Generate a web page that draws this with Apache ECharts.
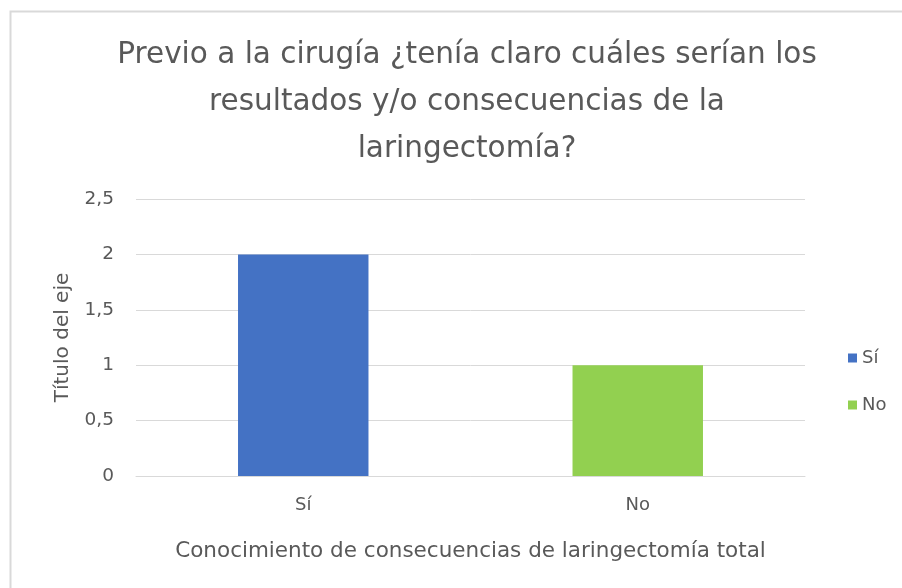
<!DOCTYPE html>
<html>
<head>
<meta charset="utf-8">
<title>Laringectomía</title>
<script src="https://cdn.jsdelivr.net/npm/echarts@6/dist/echarts.min.js"></script>
<style>
  html, body { margin: 0; padding: 0; background: #fff; }
  #chart { width: 902px; height: 588px; }
</style>
</head>
<body>
<div id="chart"></div>
<script>
// data
const categories = ["Sí", "No"];
const siValues = [2, "-"];
const noValues = ["-", 1];
const yTicks = { min: 0, max: 2.5, interval: 0.5 };

const TEXT = "#595959";
const FONT = "'DejaVu Sans', sans-serif";

const chart = echarts.init(document.getElementById("chart"), null, { renderer: "canvas" });

chart.setOption({
  backgroundColor: "#fff",
  animation: false,
  textStyle: { fontFamily: FONT, color: TEXT },
  graphic: [{
    type: "rect",
    left: 8, top: 9,
    shape: { width: 900, height: 600 },
    style: { fill: "none", stroke: "#d9d9d9", lineWidth: 2 },
    silent: true
  }],
  title: {
    text: "Previo a la cirugía ¿tenía claro cuáles serían los\nresultados y/o consecuencias de la\nlaringectomía?",
    left: 462, top: 27, textAlign: "center",
    textStyle: { fontFamily: FONT, fontSize: 29.5, fontWeight: "normal", color: TEXT, lineHeight: 47 }
  },
  legend: {
    orient: "vertical",
    left: 843, top: 344,
    itemWidth: 9, itemHeight: 9, itemGap: 29,
    icon: "rect",
    textStyle: { fontFamily: FONT, fontSize: 18, color: TEXT, padding: [0, 0, 0, 0] },
    data: categories
  },
  grid: { left: 136, right: 97, top: 199, bottom: 112 },
  xAxis: {
    type: "category",
    data: categories,
    axisTick: { show: false },
    axisLine: { lineStyle: { color: "#d9d9d9" } },
    axisLabel: { fontFamily: FONT, fontSize: 18, color: TEXT, margin: 20 },
    name: "Conocimiento de consecuencias de laringectomía total",
    nameLocation: "middle", nameGap: 64,
    nameTextStyle: { fontFamily: FONT, fontSize: 21.5, color: TEXT }
  },
  yAxis: {
    type: "value",
    min: yTicks.min, max: yTicks.max, interval: yTicks.interval,
    axisLine: { show: false },
    axisTick: { show: false },
    splitLine: { lineStyle: { color: "#d9d9d9", width: 1 } },
    axisLabel: {
      fontFamily: FONT, fontSize: 18.5, color: TEXT, margin: 22,
      formatter: v => String(v).replace(".", ",")
    },
    name: "Título del eje",
    nameLocation: "middle", nameGap: 63, nameRotate: 90,
    nameTextStyle: { fontFamily: FONT, fontSize: 20, color: TEXT }
  },
  series: [
    {
      name: "Sí", type: "bar", stack: "total", barWidth: "39%",
      itemStyle: { color: "#4472C4" },
      data: siValues
    },
    {
      name: "No", type: "bar", stack: "total", barWidth: "39%",
      itemStyle: { color: "#92D050" },
      data: noValues
    }
  ]
});
</script>
</body>
</html>
